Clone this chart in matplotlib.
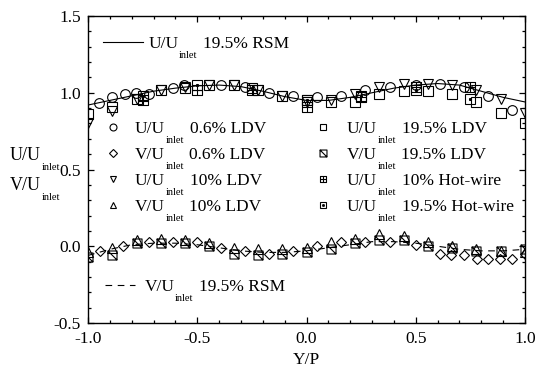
import matplotlib
matplotlib.use("Agg")
import matplotlib.pyplot as plt
from matplotlib.path import Path
import numpy as np

plt.rcParams['font.family'] = ['Liberation Serif', 'DejaVu Serif']
plt.rcParams['axes.unicode_minus'] = False

# ---- data ----
# RSM predictions (19.5% turbulence)
x_rsm = [-1.0, -0.9, -0.8, -0.7, -0.6, -0.5, -0.4, -0.3, -0.2, -0.1, 0.0,
         0.1, 0.2, 0.3, 0.4, 0.5, 0.6, 0.7, 0.8, 0.9, 1.0]
u_rsm = [0.92, 0.95, 0.98, 1.01, 1.03, 1.045, 1.05, 1.04, 1.01, 0.975, 0.95,
         0.95, 0.97, 1.00, 1.03, 1.05, 1.06, 1.05, 1.01, 0.97, 0.94]
v_rsm = [-0.06, -0.02, 0.01, 0.02, 0.02, 0.01, -0.01, -0.03, -0.04, -0.04, -0.03,
         -0.01, 0.01, 0.03, 0.03, 0.02, 0.0, -0.02, -0.03, -0.03, -0.02]

# 0.6% LDV
x_06 = [-0.95, -0.89, -0.83, -0.78, -0.72, -0.61, -0.56, -0.39, -0.28, -0.17,
        -0.06, 0.05, 0.16, 0.27, 0.38, 0.50, 0.61, 0.72, 0.83, 0.94]
u_06 = [0.93, 0.97, 0.99, 1.00, 0.99, 1.03, 1.05, 1.05, 1.04, 1.00,
        0.98, 0.97, 0.98, 1.02, 1.04, 1.05, 1.06, 1.04, 0.98, 0.89]
x_06v = [-0.945, -0.84, -0.72, -0.61, -0.50, -0.39, -0.28, -0.17, -0.06, 0.05,
         0.16, 0.27, 0.38, 0.50, 0.61, 0.66, 0.72, 0.78, 0.83, 0.885, 0.94, 1.0]
v_06 = [-0.03, 0.0, 0.03, 0.03, 0.03, -0.01, -0.03, -0.05, -0.03, 0.0,
        0.03, 0.03, 0.03, 0.01, -0.05, -0.06, -0.06, -0.08, -0.08, -0.08, -0.08, -0.05]

# 10% and 19.5% LDV traverses
x_ldv = [-1.0, -0.889, -0.778, -0.667, -0.556, -0.444, -0.333, -0.222, -0.111, 0.0,
         0.111, 0.222, 0.333, 0.444, 0.556, 0.667, 0.778, 0.889, 1.0]
u_10 = [0.80, 0.88, 0.96, 1.02, 1.04, 1.05, 1.05, 1.02, 0.98, 0.94,
        0.95, 0.99, 1.04, 1.06, 1.06, 1.05, 1.02, 0.96, 0.87]
v_10 = [-0.04, -0.01, 0.04, 0.05, 0.04, 0.02, -0.01, -0.02, -0.02, -0.01,
        0.03, 0.05, 0.08, 0.07, 0.03, 0.0, -0.02, -0.03, -0.04]
u_195 = [0.86, 0.91, 0.96, 1.02, 1.03, 1.05, 1.05, 1.02, 0.98, 0.95,
         0.94, 0.94, 0.99, 1.01, 1.01, 0.99, 0.94, 0.87, 0.80]
v_195 = [-0.07, -0.06, 0.02, 0.02, 0.02, 0.0, -0.05, -0.06, -0.05, -0.04,
         -0.02, 0.02, 0.04, 0.04, 0.0, -0.01, -0.03, -0.03, -0.02]

# hot-wire
x_hw = [-0.75, -0.5, -0.25, 0.0, 0.25, 0.5, 0.75]
u_hw10 = [0.95, 1.02, 1.02, 0.91, 0.97, 1.04, 1.04]
u_hw195 = [0.98, 1.05, 1.03, 0.95, 0.98, 1.02, 0.96]

# ---- custom markers ----
M, L, C = Path.MOVETO, Path.LINETO, Path.CLOSEPOLY
sq = [(-1, -1), (1, -1), (1, 1), (-1, 1), (-1, -1)]
sq_codes = [M, L, L, L, C]
hatch_sq = Path(sq + [(-1, 1), (1, -1)], sq_codes + [M, L])
plus_sq = Path(sq + [(0, -1), (0, 1), (-1, 0), (1, 0)], sq_codes + [M, L, M, L])

fig = plt.figure(figsize=(5.39, 3.68), dpi=100)
ax = fig.add_axes([88 / 539, 1 - 323 / 368, 437 / 539, 307 / 368])

mk = dict(ls='none', mfc='none', mec='black', mew=0.8, color='black')

ax.plot(x_rsm, u_rsm, '-', color='black', lw=0.8)
ax.plot(x_rsm, v_rsm, color='black', lw=0.8, dashes=(6, 5))

ax.plot(x_06, u_06, marker='o', ms=7, **mk)
ax.plot(x_06v, v_06, marker='D', ms=5, **mk)
ax.plot(x_ldv, u_10, marker='v', ms=7, **mk)
ax.plot(x_ldv, v_10, marker='^', ms=7, **mk)
ax.plot(x_ldv, u_195, marker='s', ms=6.5, **mk)
ax.plot(x_ldv, v_195, marker=hatch_sq, ms=6.5, **mk)
ax.plot(x_hw, u_hw10, marker=plus_sq, ms=6.5, **mk)
ax.plot(x_hw, u_hw195, marker='s', ms=6.5, **mk)
ax.plot(x_hw, u_hw195, ls='none', marker='s', ms=1.2, color='black')

ax.set_xlim(-1.0, 1.0)
ax.set_ylim(-0.5, 1.5)
ax.set_xticks(np.arange(-1.0, 1.01, 0.5))
ax.set_yticks(np.arange(-0.5, 1.51, 0.5))
ax.set_xticks(np.arange(-1.0, 1.01, 0.1), minor=True)
ax.set_yticks(np.arange(-0.5, 1.51, 0.1), minor=True)
ax.xaxis.set_major_formatter(matplotlib.ticker.FormatStrFormatter('%.1f'))
ax.yaxis.set_major_formatter(matplotlib.ticker.FormatStrFormatter('%.1f'))
ax.tick_params(which='both', direction='in', top=True, right=True, width=0.9)
ax.tick_params(which='major', length=4.5, labelsize=12.5)
ax.tick_params(axis='x', which='major', pad=6)
ax.tick_params(axis='y', which='major', pad=5)
ax.tick_params(which='minor', length=2.3)
for s in ax.spines.values():
    s.set_linewidth(1.0)
ax.set_xlabel('Y/P', fontsize=12.5, labelpad=3)


def ulabel(xy, head, tail, coords='data', size=12.5, sub=7.5, dy=-7.2):
    # "U/U" + lowered "inlet" + trailing text, chained left to right
    t1 = ax.annotate(head, xy=xy, xycoords=coords, xytext=(0, dy),
                     textcoords='offset points', va='bottom', fontsize=size,
                     annotation_clip=False)
    t2 = ax.annotate('inlet', xy=(1, 0), xycoords=t1, xytext=(0.3, -6.0),
                     textcoords='offset points', va='bottom', fontsize=sub,
                     annotation_clip=False)
    if tail:
        ax.annotate(tail, xy=(1, 0), xycoords=(t2, t1), xytext=(4, 0),
                    textcoords='offset points', va='bottom', fontsize=size,
                    annotation_clip=False)
    return t1


# RSM line keys
ax.plot([-0.93, -0.75], [1.33, 1.33], '-', color='black', lw=0.8)
ulabel((-0.725, 1.33), 'U/U', '19.5% RSM')
ax.plot([-0.92, -0.785], [-0.25, -0.25], color='black', lw=0.8, dashes=(6, 5))
ulabel((-0.74, -0.25), 'V/U', '19.5% RSM')

# marker keys
rows = [0.78, 0.61, 0.44, 0.27]
left_keys = [('o', 'U/U', '0.6% LDV'), ('D', 'V/U', '0.6% LDV'),
             ('v', 'U/U', '10% LDV'), ('^', 'V/U', '10% LDV')]
right_keys = [('s', 'U/U', '19.5% LDV'), (hatch_sq, 'V/U', '19.5% LDV'),
              (plus_sq, 'U/U', '10% Hot-wire'), ('s', 'U/U', '19.5% Hot-wire')]
for yk, (m, h, t) in zip(rows, left_keys):
    ax.plot([-0.886], [yk], marker=m, ms=4.2 if m == 'D' else 5, **mk)
    ulabel((-0.785, yk), h, t)
for yk, (m, h, t) in zip(rows, right_keys):
    ax.plot([0.074], [yk], marker=m, ms=5, **mk)
    ulabel((0.185, yk), h, t)
ax.plot([0.074], [rows[3]], ls='none', marker='s', ms=1, color='black')

# vertical axis caption (baseline positions in figure pixels)
ulabel((10, 368 - 160), 'U/U', '', coords='figure pixels', size=13, dy=-2.9)
ulabel((10, 368 - 190), 'V/U', '', coords='figure pixels', size=13, dy=-2.9)

fig.savefig('out.png', dpi=100)
